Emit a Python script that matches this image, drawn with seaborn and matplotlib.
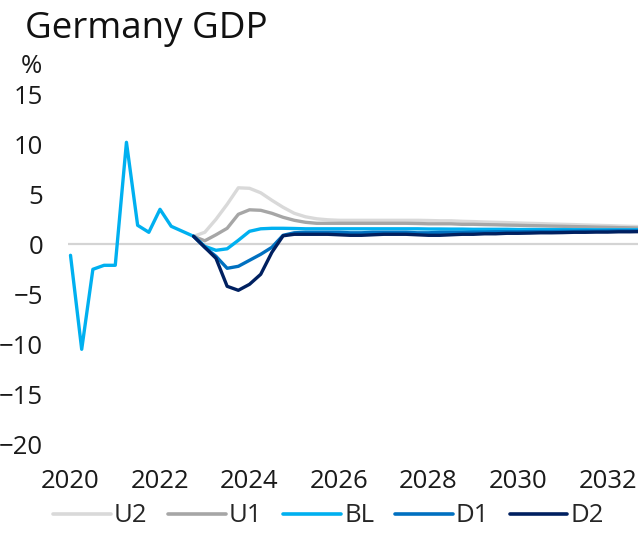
import matplotlib
matplotlib.use("Agg")
import matplotlib.pyplot as plt
from matplotlib.lines import Line2D
import numpy as np
import pandas as pd
import seaborn as sns

# Year-on-year real GDP growth, %, quarterly
history_start = "2020Q1"
history = [-1.1, -10.5, -2.5, -2.1, -2.1, 10.2, 1.9, 1.2, 3.5, 1.8, 1.3]

# Scenario paths from 2022Q4 to 2032Q4
scenario_start = "2022Q4"
u2 = [0.8, 1.2, 2.5, 4.0, 5.65, 5.6, 5.15, 4.4, 3.7, 3.1, 2.75, 2.55, 2.45,
      2.4, 2.4, 2.4, 2.4, 2.4, 2.4, 2.4, 2.4, 2.38, 2.35, 2.35,
      2.3, 2.27, 2.23, 2.2, 2.17, 2.13, 2.1, 2.07, 2.03, 2.0, 1.97, 1.93, 1.9, 1.87, 1.83, 1.8, 1.77]
u1 = [0.8, 0.35, 0.95, 1.6, 3.0, 3.45, 3.4, 3.1, 2.7, 2.4, 2.2, 2.1, 2.1,
      2.1, 2.1, 2.1, 2.1, 2.1, 2.1, 2.1, 2.08, 2.05, 2.05, 2.05,
      2.0, 2.0, 1.97, 1.95, 1.92, 1.9, 1.87, 1.85, 1.82, 1.8, 1.77, 1.75, 1.72, 1.7, 1.67, 1.65, 1.62]
bl = [0.8, -0.2, -0.6, -0.45, 0.4, 1.3, 1.55, 1.6, 1.6, 1.58, 1.55, 1.55, 1.55,
      1.55, 1.55, 1.55, 1.55, 1.55, 1.55, 1.55, 1.55, 1.53, 1.53, 1.52,
      1.52, 1.5, 1.5, 1.5, 1.5, 1.48, 1.48, 1.48, 1.47, 1.47, 1.46, 1.46, 1.45, 1.45, 1.45, 1.45, 1.45]
d1 = [0.8, -0.3, -1.2, -2.4, -2.2, -1.6, -1.0, -0.3, 0.9, 1.15, 1.2, 1.2, 1.2,
      1.2, 1.15, 1.15, 1.2, 1.2, 1.2, 1.2, 1.15, 1.15, 1.2, 1.2,
      1.2, 1.22, 1.22, 1.25, 1.25, 1.25, 1.27, 1.28, 1.28, 1.3, 1.3, 1.32, 1.32, 1.33, 1.35, 1.35, 1.35]
d2 = [0.8, -0.3, -1.4, -4.2, -4.6, -4.0, -3.0, -0.8, 0.85, 1.0, 1.0, 1.0, 1.0,
      0.95, 0.9, 0.9, 0.95, 1.0, 1.0, 1.0, 0.95, 0.9, 0.9, 0.95,
      1.0, 1.0, 1.05, 1.05, 1.1, 1.1, 1.12, 1.15, 1.15, 1.17, 1.2, 1.2, 1.22, 1.22, 1.25, 1.25, 1.27]

scenario_names = ["U2", "U1", "BL", "D1", "D2"]
scenario_colors = ["#D9D9D9", "#A6A6A6", "#00B0F0", "#0070C0", "#002060"]
x_ticks = [2020, 2022, 2024, 2026, 2028, 2030, 2032]
y_ticks = [-20, -15, -10, -5, 0, 5, 10, 15]


def to_year(periods):
    return periods.year + (periods.quarter - 1) / 4.0


hist_idx = pd.period_range(history_start, periods=len(history), freq="Q")
scen_idx = pd.period_range(scenario_start, periods=len(bl), freq="Q")

frames = []
for name, values in zip(scenario_names, [u2, u1, bl, d1, d2]):
    if name == "BL":
        xs = np.concatenate([to_year(hist_idx), to_year(scen_idx)])
        ys = list(history) + list(values)
    else:
        xs = to_year(scen_idx)
        ys = values
    frames.append(pd.DataFrame({"year": xs, "growth": ys, "scenario": name}))
df = pd.concat(frames, ignore_index=True)

sns.set_theme(style="white")
plt.rcParams["font.family"] = ["Open Sans", "DejaVu Sans"]

W, H = 638, 534
fig = plt.figure(figsize=(W / 100, H / 100), dpi=100)
ax = fig.add_axes([68 / W, 89.7 / H, 570 / W, 350 / H])

ax.axhline(0, color="#D4D4D4", lw=1.6, zorder=0)
palette = dict(zip(scenario_names, scenario_colors))
sns.lineplot(data=df, x="year", y="growth", hue="scenario", hue_order=scenario_names,
             palette=palette, linewidth=2.4, estimator=None, sort=True, ax=ax,
             legend=False)

ax.set_xlim(2019.944, 2032.68)
ax.set_ylim(-20, 15)
ax.set_xticks(x_ticks)
ax.set_yticks(y_ticks)
ax.set_xlabel("")
ax.set_ylabel("")
for s in ax.spines.values():
    s.set_visible(False)
ax.tick_params(axis="x", length=0, pad=18, labelsize=18.5, labelcolor="#1a1a1a")
ax.tick_params(axis="y", length=0, pad=18, labelsize=18.5, labelcolor="#1a1a1a")
ax.grid(False)

fig.text(25 / W, 1 - 38.3 / H, "Germany GDP", fontsize=26.5, color="#111111",
         ha="left", va="baseline")
fig.text(21 / W, 1 - 73 / H, "%", fontsize=18.5, color="#1a1a1a",
         ha="left", va="baseline")

handles = [Line2D([], [], color=c, lw=2.6) for c in scenario_colors]
fig.legend(handles, scenario_names, loc="center", bbox_to_anchor=(328.5 / W, 1 - 516 / H),
           ncol=5, frameon=False, fontsize=18.5, handlelength=2.25, handletextpad=0.12,
           columnspacing=0.8, borderpad=0, borderaxespad=0)

fig.savefig("out.png", dpi=100)
